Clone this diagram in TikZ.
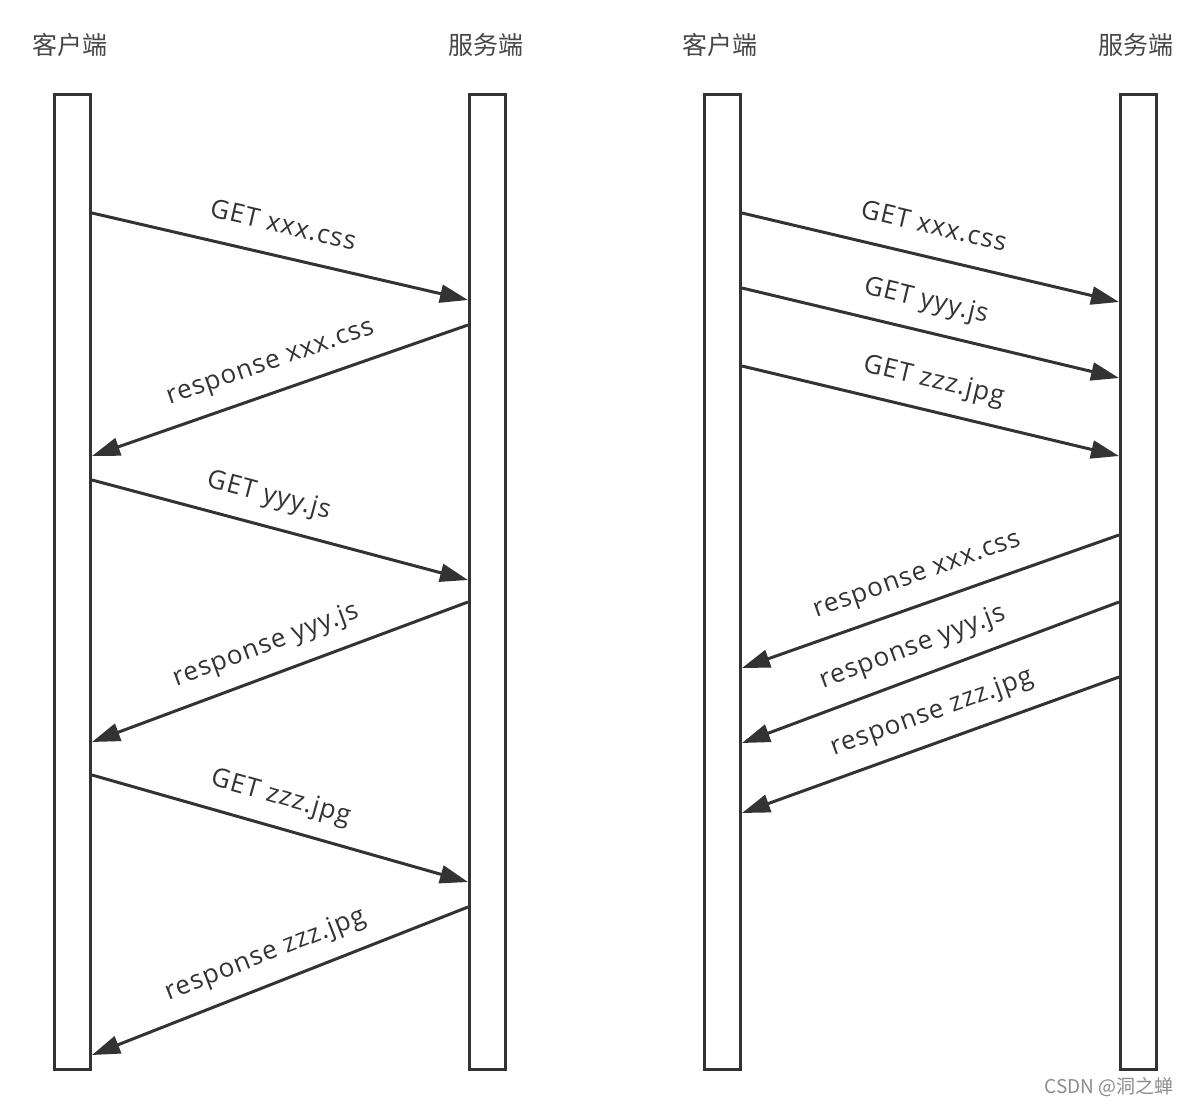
\documentclass[tikz,border=0pt]{standalone}
\usepackage{fontspec}
\setmainfont{Open Sans}
\newfontfamily\lblfont[LetterSpace=4]{Open Sans}
\newfontfamily\cjk{Noto Sans CJK SC}
\usetikzlibrary{arrows.meta}
\definecolor{ink}{HTML}{333333}
\definecolor{wm}{HTML}{8C8C8C}
\begin{document}
\begin{tikzpicture}[x=1pt,y=-1pt,
  bar/.style={draw=ink, line width=3pt, fill=white, minimum width=36pt, minimum height=975pt, inner sep=0pt, anchor=north},
  msg/.style={draw=ink, line width=3pt, -{Triangle[length=28pt,width=18pt]}},
  lbl/.style={font=\lblfont\fontsize{26}{26}\selectfont, text=ink, sloped, above=23pt, anchor=base, inner sep=0pt},
  title/.style={font=\cjk\fontsize{25}{25}\selectfont, text=ink!90}]
\useasboundingbox (0,0) rectangle (1190,1106);
% titles
\node[title] (t1) at (70,45) {客户端};
\node[title] (t2) at (486,45) {服务端};
\node[title] (t3) at (720,45) {客户端};
\node[title] (t4) at (1136,45) {服务端};
% bars
\node[bar] (cl) at (72.5,93) {};
\node[bar] (sl) at (487.5,93) {};
\node[bar] (cr) at (722.5,93) {};
\node[bar] (sr) at (1138.5,93) {};
% left: sequential
\draw[msg] (cl.east |- 0,213) -- (sl.west |- 0,300) node[lbl,pos=.49] {GET xxx.css};
\draw[msg] (sl.west |- 0,325) -- (cl.east |- 0,456) node[lbl,pos=.50] {response xxx.css};
\draw[msg] (cl.east |- 0,480) -- (sl.west |- 0,580) node[lbl,pos=.45] {GET yyy.js};
\draw[msg] (sl.west |- 0,602) -- (cl.east |- 0,742) node[lbl,pos=.51] {response yyy.js};
\draw[msg] (cl.east |- 0,775) -- (sl.west |- 0,882) node[lbl,pos=.48] {GET zzz.jpg};
\draw[msg] (sl.west |- 0,907) -- (cl.east |- 0,1055) node[lbl,pos=.51] {response zzz.jpg};
% right: pipelined
\draw[msg] (cr.east |- 0,213) -- (sr.west |- 0,302) node[lbl,pos=.49] {GET xxx.css};
\draw[msg] (cr.east |- 0,288) -- (sr.west |- 0,378) node[lbl,pos=.47] {GET yyy.js};
\draw[msg] (cr.east |- 0,366) -- (sr.west |- 0,456) node[lbl,pos=.49] {GET zzz.jpg};
\draw[msg] (sr.west |- 0,535) -- (cr.east |- 0,668) node[lbl,pos=.51] {response xxx.css};
\draw[msg] (sr.west |- 0,602) -- (cr.east |- 0,743) node[lbl,pos=.52] {response yyy.js};
\draw[msg] (sr.west |- 0,677) -- (cr.east |- 0,813) node[lbl,pos=.47] {response zzz.jpg};
% watermark
\node[font=\cjk\fontsize{19}{19}\selectfont, text=wm] (wmk) at (1109,1087) {CSDN @洞之蝉};
\end{tikzpicture}
\end{document}
